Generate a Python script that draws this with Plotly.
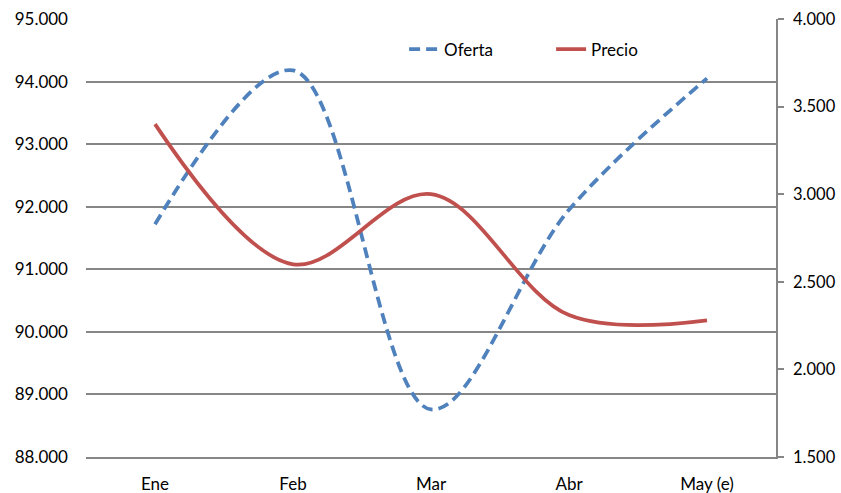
import plotly.graph_objects as go

meses = ["Ene", "Feb", "Mar", "Abr", "May (e)"]
oferta = [91720, 94180, 88760, 91950, 94050]
precio = [3400, 2600, 3000, 2310, 2280]

left_ticks = [88000, 89000, 90000, 91000, 92000, 93000, 94000, 95000]
right_ticks = [1500, 2000, 2500, 3000, 3500, 4000]

fig = go.Figure()
fig.add_trace(go.Scatter(
    x=meses, y=oferta, name="Oferta", mode="lines",
    line=dict(color="#4F81BD", width=3.75, dash="11px,6px", shape="spline", smoothing=1.0),
    yaxis="y"))
fig.add_trace(go.Scatter(
    x=meses, y=precio, name="Precio", mode="lines",
    line=dict(color="#C0504D", width=3.75, shape="spline", smoothing=1.0),
    yaxis="y2"))

font = dict(family="Lato, Noto Sans, sans-serif", size=17, color="#000000")
font_r = dict(family="Lato, Noto Sans, sans-serif", size=16.5, color="#000000")

fig.update_layout(
    width=841, height=493,
    margin=dict(l=86, r=65, t=19, b=36, autoexpand=False),
    paper_bgcolor="white", plot_bgcolor="white",
    separators=",.",
    font=font,
    showlegend=True,
    hovermode=False,
    legend=dict(orientation="h", x=0.461, y=0.93, xanchor="left", yanchor="middle",
                bgcolor="rgba(0,0,0,0)", font=font,
                entrywidth=102, entrywidthmode="pixels"),
    xaxis=dict(showgrid=False, showline=True, linecolor="#868686", linewidth=1.5,
               ticks="", range=[-0.5, 4.5], tickfont=font, ticklabelstandoff=11,
               automargin=False),
    yaxis=dict(range=[88000, 95000], tickvals=left_ticks, tickformat=",.0f",
               showgrid=True, gridcolor="#868686", gridwidth=1.5, zeroline=False,
               showline=False, ticks="", tickfont=font, ticklabelstandoff=17,
               automargin=False),
    yaxis2=dict(range=[1500, 4000], tickvals=right_ticks, tickformat=",.0f",
                overlaying="y", side="right", showgrid=False, zeroline=False,
                showline=True, linecolor="#868686", linewidth=1.5,
                ticks="outside", ticklen=6, tickcolor="#868686", tickwidth=1.5,
                tickfont=font_r, ticklabelstandoff=6, automargin=False),
)

fig.write_html("out.html", config={"displayModeBar": False},
               post_script="document.body.style.margin='0';")
